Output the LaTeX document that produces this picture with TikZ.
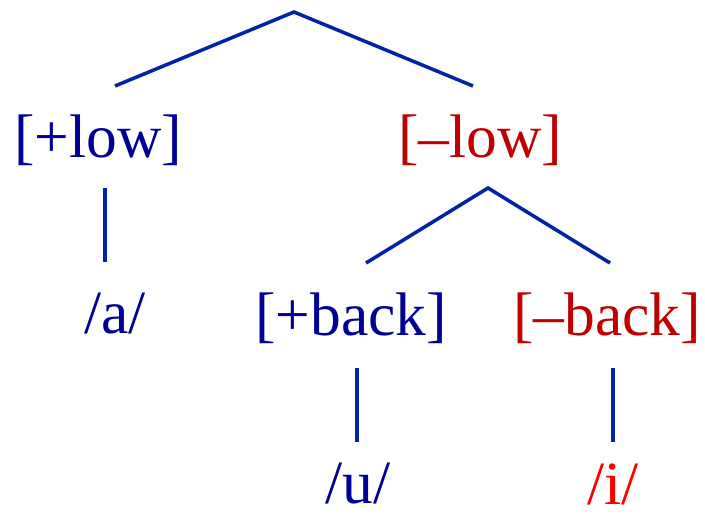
\documentclass[tikz,border=0pt]{standalone}
\usepackage{fontspec}
\setmainfont{Liberation Serif}
\definecolor{TreeBlue}{RGB}{0,0,150}
\definecolor{LineBlue}{RGB}{0,36,165}
\definecolor{FeatRed}{RGB}{192,0,0}
\definecolor{SegRed}{RGB}{255,0,0}
\usepackage{tikz}
\usetikzlibrary{
    positioning,
    calc
}
\begin{document}
\begin{tikzpicture}[
    x=0.02cm,
    y=-0.02cm,
%
    feature/.style={
        inner sep=0pt,
        font=\fontsize{35}{41}\selectfont,
        anchor=center
    },
%
    plus/.style={
        feature,
        text=TreeBlue
    },
%
    minus/.style={
        feature,
        text=FeatRed
    },
%
    branch/.style={
        draw=LineBlue,
        line width=2pt
    }
]
\useasboundingbox (0,0) rectangle (705,514);
%
% Feature nodes
%
\node[plus] (plow) at (98,140) {[+low]};
\node[minus] (mlow) at (480,140) {[--low]};
\node[plus] (pback) at (351,318) {[+back]};
\node[minus] (mback) at (607,318) {[--back]};
%
% Segments
%
\node[plus] (a) at (115,314) {/a/};
\node[plus] (u) at (358,484) {/u/};
\node[
    feature,
    text=SegRed
] (i) at (613,484) {/i/};
%
% Branch points
%
\coordinate (root) at (294,12);
\coordinate (plowtop) at (115,86);
\coordinate (mlowtop) at (473,86);
\coordinate (plowfoot) at (105,188);
\coordinate (atop) at (105,262);
\coordinate (mlowfoot) at (488,188);
\coordinate (pbacktop) at (366,263);
\coordinate (mbacktop) at (610,263);
\coordinate (pbackfoot) at (357,368);
\coordinate (utop) at (357,442);
\coordinate (mbackfoot) at (613,368);
\coordinate (itop) at (613,442);
%
\draw[branch] (plowtop) -- (root) -- (mlowtop);
\draw[branch] (plowfoot) -- (atop);
\draw[branch] (pbacktop) -- (mlowfoot) -- (mbacktop);
\draw[branch] (pbackfoot) -- (utop);
\draw[branch] (mbackfoot) -- (itop);
%
\end{tikzpicture}
\end{document}
